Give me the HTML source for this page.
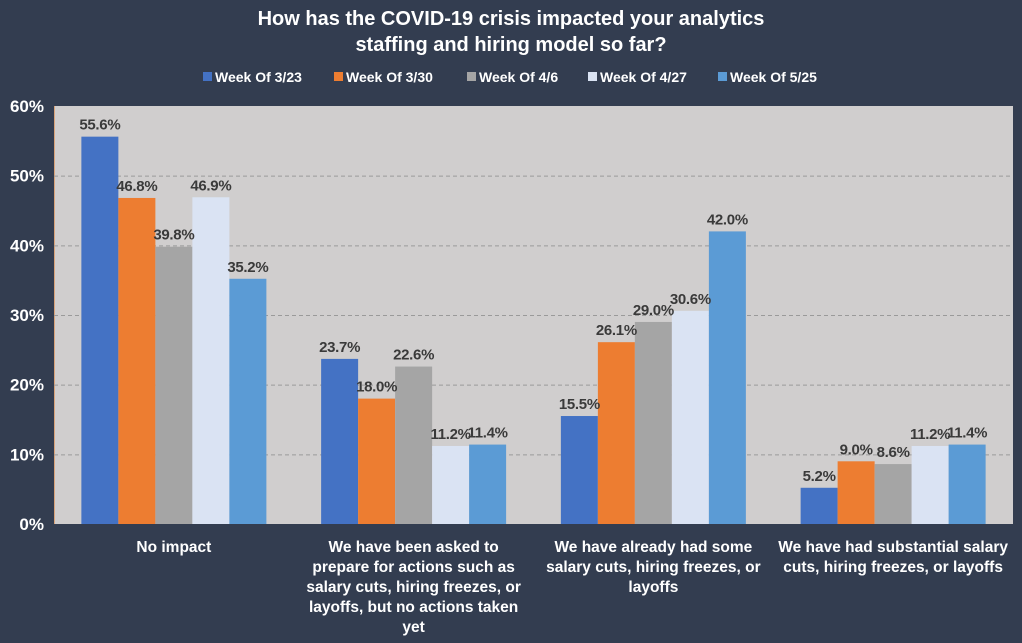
<!DOCTYPE html>
<html><head><meta charset="utf-8"><style>
html,body{margin:0;padding:0;background:#333d50;}
svg{display:block;font-family:"Liberation Sans",sans-serif;}
</style></head><body>
<svg id="chart" width="1022" height="643">
<rect x="0" y="0" width="1022" height="643" fill="#333d50"/>
<text x="511" y="25" text-anchor="middle" fill="#fff" font-size="20" font-weight="bold">How has the COVID-19 crisis impacted your analytics</text>
<text x="511" y="51" text-anchor="middle" fill="#fff" font-size="20" font-weight="bold">staffing and hiring model so far?</text>
<g id="legend"></g>
<rect x="54" y="106" width="959" height="418" fill="#d0cece"/>
<line x1="54.5" y1="106" x2="54.5" y2="524" stroke="#d9a37a" stroke-width="1"/>
<g id="grid"></g><g id="bars"></g><g id="labels"></g><g id="axis"></g>
</svg>
<script>
const categories=[["No impact"],["We have been asked to","prepare for actions such as","salary cuts, hiring freezes, or","layoffs, but no actions taken","yet"],["We have already had some","salary cuts, hiring freezes, or","layoffs"],["We have had substantial salary","cuts, hiring freezes, or layoffs"]];
const seriesNames=["Week Of 3/23","Week Of 3/30","Week Of 4/6","Week Of 4/27","Week Of 5/25"];
const week323=[55.6,23.7,15.5,5.2];
const week330=[46.8,18.0,26.1,9.0];
const week46=[39.8,22.6,29.0,8.6];
const week427=[46.9,11.2,30.6,11.2];
const week525=[35.2,11.4,42.0,11.4];
const yTicks=[0,10,20,30,40,50,60];
const series=[week323,week330,week46,week427,week525];
const colors=["#4472c4","#ed7d31","#a5a5a5","#dae3f3","#5b9bd5"];
const NS="http://www.w3.org/2000/svg";
const L=54,R=1013,T=106,B=524;
const y=v=>B-(v/60)*(B-T);
const gw=(R-L)/categories.length, bw=37;
const x=(c,s)=>L+c*gw+(gw-5*bw)/2+s*bw;
function mk(t,a,p){const e=document.createElementNS(NS,t);for(const k in a)e.setAttribute(k,a[k]);p.appendChild(e);return e;}
const grid=document.getElementById('grid'),axis=document.getElementById('axis'),bars=document.getElementById('bars'),labels=document.getElementById('labels'),legend=document.getElementById('legend');
yTicks.forEach(t=>{
 if(t>0&&t<60){const g=mk('line',{x1:L,x2:R,y1:y(t)+0.5,y2:y(t)+0.5,stroke:'#9a9a9a','stroke-dasharray':'4,3'},grid);
 
 }
 const tx=mk('text',{x:44,y:y(t)+6,'text-anchor':'end',fill:'#fff','font-size':17,'font-weight':'bold'},axis);
 tx.textContent=t+'%';
 
 
});
series.forEach((arr,s)=>{arr.forEach((v,c)=>{
 const r=mk('rect',{x:x(c,s),y:y(v),width:bw,height:B-y(v),fill:colors[s]},bars);
 
 
 const t=mk('text',{x:x(c,s)+bw/2,y:y(v)-7,'text-anchor':'middle',fill:'#3a3a3a','font-size':15,'font-weight':'bold','letter-spacing':'-0.3'},labels);
 t.textContent=v.toFixed(1)+'%';
 
 
});});
categories.forEach((lines,c)=>{lines.forEach((ln,i)=>{
 const t=mk('text',{x:L+c*gw+gw/2,y:552+i*20,'text-anchor':'middle',fill:'#fff','font-size':15.5,'font-weight':'bold'},axis);
 t.textContent=ln;
 
 
});});
const lx=[203,334,467,588,718];
seriesNames.forEach((n,s)=>{
 const r=mk('rect',{x:lx[s],y:72,width:9,height:9,fill:colors[s]},legend);
 
 
 const t=mk('text',{x:lx[s]+12,y:82,fill:'#fff','font-size':14,'font-weight':'bold'},legend);
 t.textContent=n;
 
 
});
</script>
</body></html>
